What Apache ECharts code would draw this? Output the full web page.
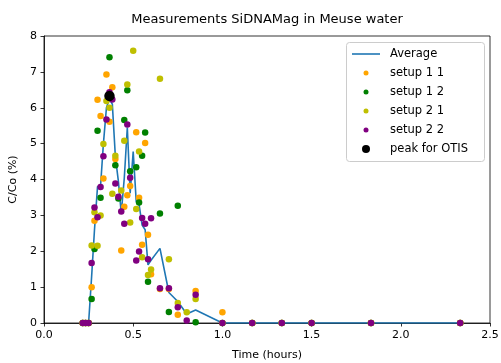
<!DOCTYPE html>
<html>
<head>
<meta charset="utf-8">
<script src="https://cdn.jsdelivr.net/npm/echarts@6/dist/echarts.min.js"></script>
<style>html,body{margin:0;padding:0;background:#fff}#c{width:501px;height:363px}</style>
</head>
<body>
<div id="c"></div>
<script>
const times = [0.217,0.233,0.25,0.267,0.283,0.3,0.317,0.333,0.35,0.367,0.383,0.4,0.417,0.433,0.45,0.467,0.483,0.5,0.517,0.533,0.55,0.567,0.583,0.6,0.65,0.7,0.75,0.8,0.85,1.0,1.167,1.333,1.5,1.833,2.333];
const average = [0,0,0,1.3,2.6,3.8,3.82,5.0,6.0,6.25,6.1,4.64,3.95,3.06,4.04,5.45,3.62,4.78,3.38,3.3,2.73,2.6,1.62,1.75,2.08,0.85,0.6,0.25,0.36,0,0,0,0,0,0];
const setup11 = [0,0,0,1.00,2.85,6.22,5.77,4.03,6.93,5.61,6.57,4.57,null,2.02,3.24,3.56,3.82,null,5.32,3.49,2.18,5.02,2.46,1.36,0.95,0.95,0.23,null,0.89,0.30,0,0,0,0,0];
const setup12 = [0,0,0,0.67,2.06,5.36,3.49,null,null,7.41,null,4.40,3.47,null,5.66,6.49,4.23,null,4.34,3.36,4.66,5.31,1.15,null,3.05,0.31,3.27,null,0.02,0,0,0,0,0,0];
const setup21 = [0,0,0,2.16,3.09,2.15,3.0,4.99,6.19,6.0,3.60,4.66,null,3.69,5.08,6.65,2.80,7.59,3.18,4.78,1.83,null,1.34,1.49,6.81,1.78,0.56,0.30,0.67,0,0,0,0,0,0];
const setup22 = [0,0,0,1.67,3.22,2.95,3.79,4.65,5.67,6.43,6.23,3.89,3.52,3.11,2.77,5.53,4.05,null,1.74,1.99,2.93,2.77,1.78,2.92,0.97,0.97,0.44,0.07,0.79,0,0,0,0,0,0];
const peakTime = [0.367];
const peakValue = [6.33];
const xTicks = [0,0.5,1.0,1.5,2.0,2.5];
const yTicks = [0,1,2,3,4,5,6,7,8];

function pairs(xs, ys){ const out=[]; for(let i=0;i<xs.length;i++){ if(ys[i]!==null) out.push([xs[i], ys[i]]); } return out; }

const FONT = 'DejaVu Sans';
const chart = echarts.init(document.getElementById('c'), null, {renderer:'canvas'});
function scatter(name, ys, color){
  return {name, type:'scatter', data: pairs(times, ys), symbolSize:6.5, itemStyle:{color, opacity:1}, z:3, animation:false};
}
const legendText = {fontFamily:FONT, fontSize:11.5, color:'#000', lineHeight:14, padding:[0,0,0,5]};
const smallDot = 'path://M0,0 M28,5 M11.5,2.5 A2.5,2.5 0 1 1 16.5,2.5 A2.5,2.5 0 1 1 11.5,2.5 Z';
const bigDot = 'path://M0,0 M28,8 M10,4 A4,4 0 1 1 18,4 A4,4 0 1 1 10,4 Z';
chart.setOption({
  animation:false,
  backgroundColor:'#fff',
  textStyle:{fontFamily:FONT},
  title:{text:'Measurements SiDNAMag in Meuse water', left:267, top:13, textAlign:'center', padding:0,
    textStyle:{fontFamily:FONT, fontSize:13, fontWeight:'normal', color:'#000'}},
  grid:{left:44, right:11, top:36, bottom:40, outerBoundsMode:'none', containLabel:false, show:true, borderColor:'#000', borderWidth:0.8, backgroundColor:'transparent'},
  xAxis:{type:'value', min:xTicks[0], max:xTicks[xTicks.length-1], interval:0.5,
    name:'Time (hours)', nameLocation:'middle', nameGap:27,
    nameTextStyle:{fontFamily:FONT, fontSize:11, color:'#000'},
    axisLine:{show:true, lineStyle:{color:'#000', width:0.8}},
    axisTick:{show:true, length:3.5, lineStyle:{color:'#000', width:0.8}},
    axisLabel:{fontFamily:FONT, fontSize:11, color:'#000', margin:7, formatter:v=>v.toFixed(1)},
    splitLine:{show:false}},
  yAxis:{type:'value', min:yTicks[0], max:yTicks[yTicks.length-1], interval:1,
    name:'C/Co (%)', nameLocation:'middle', nameGap:21, nameRotate:90,
    nameTextStyle:{fontFamily:FONT, fontSize:11, color:'#000'},
    axisLine:{show:true, lineStyle:{color:'#000', width:0.8}},
    axisTick:{show:true, length:3.5, lineStyle:{color:'#000', width:0.8}},
    axisLabel:{fontFamily:FONT, fontSize:11, color:'#000', margin:7},
    splitLine:{show:false}},
  legend:[{
    orient:'vertical', left:346, top:47, padding:[0,6,0,6], itemWidth:28, itemHeight:1.6,
    textStyle:legendText,
    data:[{name:'Average', icon:'rect', itemStyle:{color:'#1f77b4'}}]
  },{
    orient:'vertical', left:346, top:66, padding:[0,6,0,6], itemWidth:28, itemHeight:5, itemGap:5,
    textStyle:legendText,
    data:[{name:'setup 1 1', icon:smallDot},{name:'setup 1 2', icon:smallDot},{name:'setup 2 1', icon:smallDot},{name:'setup 2 2', icon:smallDot}]
  },{
    orient:'vertical', left:346, top:142, padding:[0,6,0,6], itemWidth:28, itemHeight:8,
    textStyle:legendText,
    data:[{name:'peak for OTIS', icon:bigDot, itemStyle:{color:'#000', opacity:1}}]
  }],
  graphic:[{type:'rect', left:346, top:42, shape:{width:138, height:119, r:3}, style:{fill:'rgba(255,255,255,0.8)', stroke:'#cccccc', lineWidth:1}, z:-1}],
  series:[
    {name:'Average', type:'line', data: pairs(times, average), symbol:'none', lineStyle:{color:'#1f77b4', width:1.6}, itemStyle:{color:'#1f77b4'}, z:2, animation:false},
    scatter('setup 1 1', setup11, '#ffa500'),
    scatter('setup 1 2', setup12, '#008000'),
    scatter('setup 2 1', setup21, '#bfbf00'),
    scatter('setup 2 2', setup22, '#800080'),
    {name:'peak for OTIS', type:'scatter', data: pairs(peakTime, peakValue), symbolSize:10.5, itemStyle:{color:'#000', opacity:1}, z:4, animation:false}
  ]
});
</script>
</body>
</html>
